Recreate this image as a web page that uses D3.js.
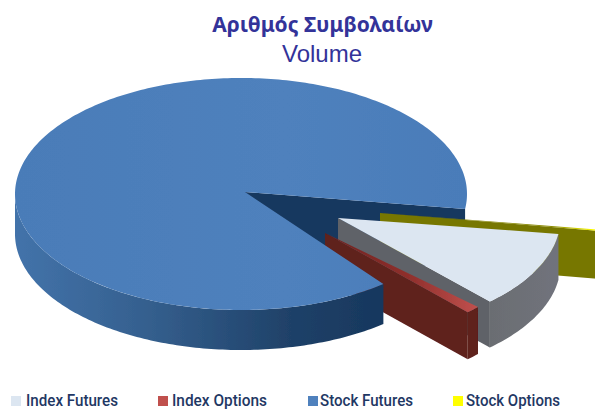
<!DOCTYPE html>
<html><head><meta charset="utf-8">
<script src="https://cdn.jsdelivr.net/npm/d3@7/dist/d3.min.js"></script>
<style>html,body{margin:0;padding:0;background:#fff}svg{display:block}</style>
</head><body><svg id="c" width="595" height="413"></svg>
<script>
const categories = ["Index Futures","Index Options","Stock Futures","Stock Options"];
const shares = [10.83, 1.1, 87.92, 0.15];
const titleLines = ["Αριθμός Συμβολαίων","Volume"];

const RX=226, RY=116, rad=Math.PI/180;
const topColors = ["#dce6f1","#c0504d","#4f81bd","#ffff00"];
const sideColors = ["#6b6e74","#5e201e","#17375e","#777700"];
const wallColors = ["#5f6268","#5e201e","#17375e","#777700"];
// layout of each slice: apex position, radius factor, angular shift, extrusion depth
const layout = [
 {ax:338,ay:218,r:.985,shift:0,depth:46},
 {ax:325,ay:233,r:.93,shift:-3.7,depth:47},
 {ax:241,ay:194,r:1,shift:0,depth:40,apexX:245,apexY:192,wallDepth:60},
 {ax:380,ay:213,r:1,shift:1,depth:48}
];
const legendSwatchX=[11,158,308,453], legendTextX=[26,172,320,466], legendTextW=[92,95,93,94];
const svg=d3.select("#c");
const defs=svg.append("defs");
const addGrad=(id,x1,x2,stops)=>{const g=defs.append("linearGradient").attr("id",id)
  .attr("gradientUnits","userSpaceOnUse").attr("x1",x1).attr("x2",x2).attr("y1",0).attr("y2",0);
  stops.forEach(s=>g.append("stop").attr("offset",s[0]).attr("stop-color",s[1]));};
addGrad("blueSide",15,383,[[0,"#4373aa"],[.35,"#35608f"],[.75,"#1f4168"],[1,"#17375e"]]);
addGrad("redTop",325,477,[[0,"#6e2320"],[.55,"#8f2f2c"],[1,"#c0504d"]]);
addGrad("graySide",477,558,[[0,"#6a6c70"],[1,"#70737c"]]);
addGrad("blueTop",15,466,[[0,"#4a7cb8"],[.6,"#4f81bd"],[1,"#4a7cb9"]]);
addGrad("yellowTop",380,595,[[0,"#777700"],[.8,"#8a8a00"],[1,"#ffff00"]]);
defs.append("filter").attr("id","soft").append("feGaussianBlur").attr("stdDeviation",.5);

const pie=d3.pie().sort(null).value(d=>d).startAngle(98*rad).endAngle(458*rad);
const arcs=pie(shares);
const lineGen=d3.line();
const g=svg.append("g").attr("filter","url(#soft)");

function outer(i,a){const L=layout[i];
  return [L.ax+L.r*RX*Math.sin(a), L.ay-L.r*RY*Math.cos(a)];}
function apex(i){const L=layout[i];return [L.apexX??L.ax, L.apexY??L.ay];}
function arcPts(i,a0,a1){const n=Math.max(2,Math.ceil(Math.abs(a1-a0)/rad));
  return d3.range(n+1).map(k=>outer(i,a0+(a1-a0)*k/n));}
function angles(i){const s=layout[i].shift*rad;return [arcs[i].startAngle+s,arcs[i].endAngle+s];}
const down=(p,d)=>[p[0],p[1]+d];

function wall(i,fill){const [,a1]=angles(i),L=layout[i],d=L.wallDepth??L.depth,A=apex(i),B=outer(i,a1);
  g.append("path").attr("d",lineGen([A,B,down(B,d),down(A,d)])+"Z").attr("fill",fill);}
function side(i,a0,a1,fill){const d=layout[i].depth,pts=arcPts(i,a0,a1);
  g.append("path").attr("d",lineGen(pts.concat(pts.slice().reverse().map(p=>down(p,d))))+"Z").attr("fill",fill);}
function face(i,fill){const [a0,a1]=angles(i);
  g.append("path").attr("d",lineGen([apex(i)].concat(arcPts(i,a0,a1)))+"Z").attr("fill",fill);}

wall(2,wallColors[2]);
wall(3,wallColors[3]); side(3,...angles(3),sideColors[3]); face(3,"url(#yellowTop)");
wall(0,wallColors[0]); side(0,...angles(0),"url(#graySide)"); face(0,topColors[0]);
wall(1,wallColors[1]); side(1,...angles(1),sideColors[1]); face(1,"url(#redTop)");
side(2,angles(2)[0],270*rad,"url(#blueSide)");
face(2,"url(#blueTop)");

svg.append("text").attr("x",322.5).attr("y",32).attr("text-anchor","middle")
 .attr("font-family","'Noto Sans'").attr("font-weight",700).attr("font-size",21).attr("fill","#333399").text(titleLines[0]);
svg.append("text").attr("x",322).attr("y",62).attr("text-anchor","middle")
 .attr("font-family","'Liberation Sans'").attr("font-size",24).attr("fill","#333399").text(titleLines[1]);

const leg=svg.selectAll("g.leg").data(categories).join("g").attr("class","leg");
leg.append("rect").attr("x",(d,i)=>legendSwatchX[i]).attr("y",396).attr("width",10).attr("height",10)
 .attr("fill",(d,i)=>topColors[i]);
leg.append("text").attr("x",(d,i)=>legendTextX[i]).attr("y",406)
 .attr("textLength",(d,i)=>legendTextW[i]).attr("lengthAdjust","spacingAndGlyphs")
 .attr("font-family","'Roboto'").attr("font-weight",500).attr("font-size",17).attr("fill","#1f3864")
 .text(d=>d);
</script></body></html>
